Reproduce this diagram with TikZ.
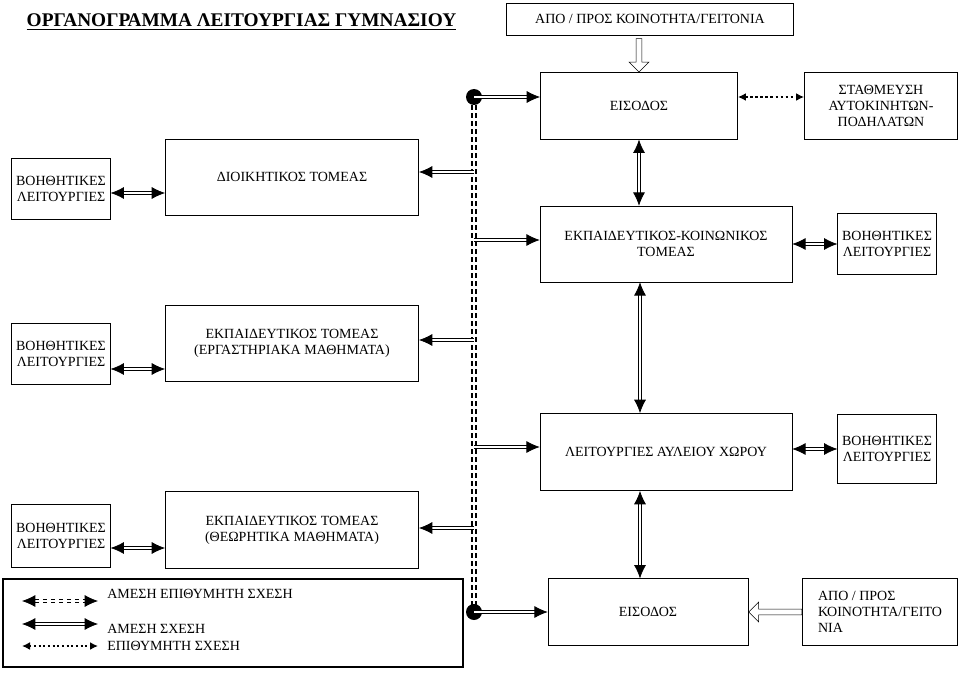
\documentclass[tikz,border=0pt]{standalone}
\usepackage{fontspec}
\setmainfont{Liberation Serif}
\usetikzlibrary{arrows.meta,shapes.arrows}
\begin{document}
\begin{tikzpicture}[x=0.75pt,y=-0.75pt,
    box/.style={draw,thin,align=center,font=\fontsize{10.5}{12}\selectfont,inner sep=1pt},
    rel/.style={double,double distance=1.6pt,line width=0.55pt,{Latex[length=10pt,width=9pt]}-{Latex[length=10pt,width=9pt]}},
    one/.style={double,double distance=1.6pt,line width=0.55pt,-{Latex[length=10pt,width=9pt]}},
    wish/.style={dotted,line width=1.8pt,{Latex[length=6pt,width=6pt]}-{Latex[length=6pt,width=6pt]}},
    bus/.style={double,double distance=2pt,line width=1pt,dash pattern=on 4pt off 2pt}]
    \useasboundingbox (0,0) rectangle (960,674);

    \node[font=\fontsize{14.5}{16}\selectfont\bfseries,anchor=west] (T) at (22,22) {\underline{ΟΡΓΑΝΟΓΡΑΜΜΑ ΛΕΙΤΟΥΡΓΙΑΣ ΓΥΜΝΑΣΙΟΥ}};
    \node[box,minimum width=215pt,minimum height=24pt] (K) at (650,19) {ΑΠΟ / ΠΡΟΣ ΚΟΙΝΟΤΗΤΑ/ΓΕΙΤΟΝΙΑ};

    % right column
    \node[box,minimum width=148pt,minimum height=50pt] (E) at (639,106) {ΕΙΣΟΔΟΣ};
    \node[box,minimum width=115pt,minimum height=50pt] (P) at (881,106) {ΣΤΑΘΜΕΥΣΗ\\ΑΥΤΟΚΙΝΗΤΩΝ-\\ΠΟΔΗΛΑΤΩΝ};
    \node[box,minimum width=189pt,minimum height=57pt] (EK) at (666,244) {ΕΚΠΑΙΔΕΥΤΙΚΟΣ-ΚΟΙΝΩΝΙΚΟΣ\\ΤΟΜΕΑΣ};
    \node[box,minimum width=74pt,minimum height=46pt] (B4) at (887,244) {ΒΟΗΘΗΤΙΚΕΣ\\ΛΕΙΤΟΥΡΓΙΕΣ};
    \node[box,minimum width=189pt,minimum height=58pt] (AY) at (666,452) {ΛΕΙΤΟΥΡΓΙΕΣ ΑΥΛΕΙΟΥ ΧΩΡΟΥ};
    \node[box,minimum width=74pt,minimum height=52pt] (B5) at (887,449) {ΒΟΗΘΗΤΙΚΕΣ\\ΛΕΙΤΟΥΡΓΙΕΣ};
    \node[box,minimum width=150pt,minimum height=50pt] (E2) at (648,612) {ΕΙΣΟΔΟΣ};
    \node[box,minimum width=116pt,minimum height=50pt,align=left] (K2) at (880,612) {ΑΠΟ / ΠΡΟΣ\\ΚΟΙΝΟΤΗΤΑ/ΓΕΙΤΟ\\ΝΙΑ};

    % left column
    \node[box,minimum width=74pt,minimum height=46pt] (B1) at (61,189) {ΒΟΗΘΗΤΙΚΕΣ\\ΛΕΙΤΟΥΡΓΙΕΣ};
    \node[box,minimum width=190pt,minimum height=57pt] (D) at (292,177) {ΔΙΟΙΚΗΤΙΚΟΣ ΤΟΜΕΑΣ};
    \node[box,minimum width=74pt,minimum height=46pt] (B2) at (61,354) {ΒΟΗΘΗΤΙΚΕΣ\\ΛΕΙΤΟΥΡΓΙΕΣ};
    \node[box,minimum width=190pt,minimum height=57pt] (ER) at (292,343) {ΕΚΠΑΙΔΕΥΤΙΚΟΣ ΤΟΜΕΑΣ\\(ΕΡΓΑΣΤΗΡΙΑΚΑ ΜΑΘΗΜΑΤΑ)};
    \node[box,minimum width=74pt,minimum height=47pt] (B3) at (61,536) {ΒΟΗΘΗΤΙΚΕΣ\\ΛΕΙΤΟΥΡΓΙΕΣ};
    \node[box,minimum width=190pt,minimum height=58pt] (TH) at (292,530) {ΕΚΠΑΙΔΕΥΤΙΚΟΣ ΤΟΜΕΑΣ\\(ΘΕΩΡΗΤΙΚΑ ΜΑΘΗΜΑΤΑ)};

    % bus line
    \coordinate (S) at (474,97);
    \coordinate (S1) at (474,172);
    \coordinate (S2) at (474,240);
    \coordinate (S3) at (474,340);
    \coordinate (S4) at (474,447);
    \coordinate (S5) at (474,528);
    \coordinate (S6) at (474,612);
    \draw[bus] (S) -- (S6);
    \fill (S) circle (6pt);
    \fill (S6) circle (6pt);

    \draw[one] (S) -- (E.west|-S);
    \draw[one] (S1) -- (D.east|-S1);
    \draw[one] (S2) -- (EK.west|-S2);
    \draw[one] (S3) -- (ER.east|-S3);
    \draw[one] (S4) -- (AY.west|-S4);
    \draw[one] (S5) -- (TH.east|-S5);
    \draw[one] (S6) -- (E2);

    % relations
    \coordinate (V) at (640,0);
    \draw[wish] (E.east|-S) -- (P.west|-S);
    \draw[rel] (E.south) -- (E.south|-EK.north);
    \draw[rel] (V|-EK.south) -- (V|-AY.north);
    \draw[rel] (V|-AY.south) -- (V|-E2.north);
    \draw[rel] (EK) -- (B4);
    \draw[rel] (AY.east|-B5) -- (B5);
    \draw[rel] (B1.east|-0,193) -- (D.west|-0,193);
    \draw[rel] (B2.east|-0,369) -- (ER.west|-0,369);
    \draw[rel] (B3.east|-0,548) -- (TH.west|-0,548);
    \node[single arrow,draw,thin,single arrow head extend=3pt,minimum height=25pt,minimum width=15pt,inner sep=1pt,shape border rotate=270,anchor=tip] (A1) at (E.north) {};
    \node[single arrow,draw,thin,single arrow head extend=3pt,minimum height=40pt,minimum width=15pt,inner sep=1pt,shape border rotate=180,anchor=tip] (A2) at (E2.east) {};

    % legend
    \node[draw,line width=2pt,minimum width=345pt,minimum height=66pt] (L) at (233,623) {};
    \coordinate (L1a) at (22,601); \coordinate (L1b) at (98,601);
    \coordinate (L2a) at (22,624); \coordinate (L2b) at (98,624);
    \coordinate (L3a) at (22,646); \coordinate (L3b) at (98,646);
    \draw[rel,dashed] (L1a) -- (L1b);
    \draw[rel] (L2a) -- (L2b);
    \draw[wish,line width=1.5pt] (L3a) -- (L3b);
    \begin{scope}[every node/.style={anchor=west,font=\fontsize{10.5}{12}\selectfont,inner sep=0pt}]
    \node (T1) at (107,594) {ΑΜΕΣΗ ΕΠΙΘΥΜΗΤΗ ΣΧΕΣΗ};
    \node (T2) at (107,629) {ΑΜΕΣΗ ΣΧΕΣΗ};
    \node (T3) at (107,646) {ΕΠΙΘΥΜΗΤΗ ΣΧΕΣΗ};
    \end{scope}
\end{tikzpicture}
\end{document}
